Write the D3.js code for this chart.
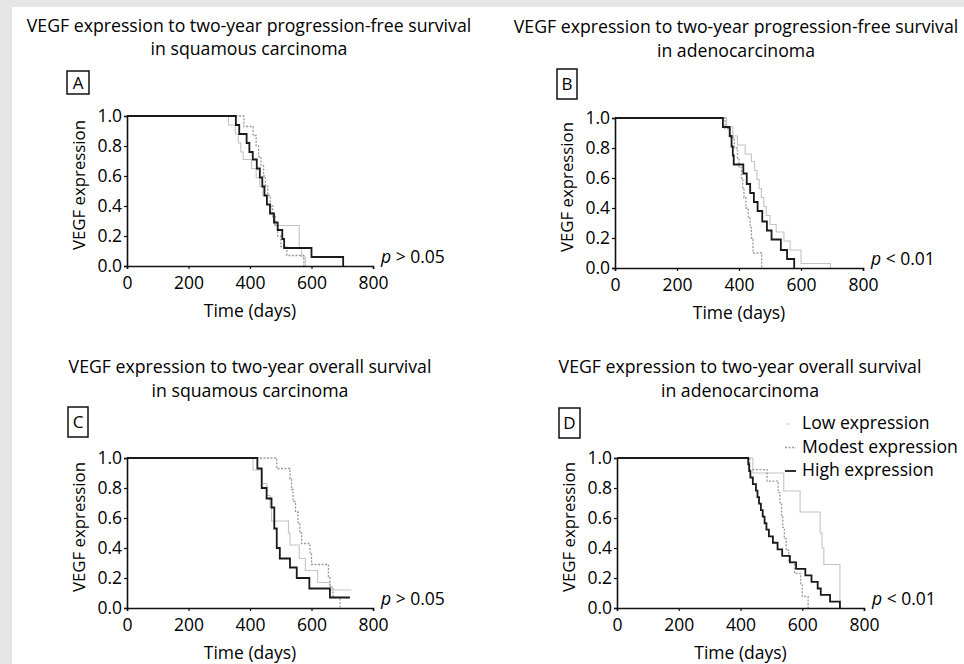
<!DOCTYPE html>
<html>
<head>
<meta charset="utf-8">
<script src="https://cdn.jsdelivr.net/npm/d3@7"></script>
<style>
  html, body { margin: 0; padding: 0; background: #e5e5e5; }
  svg { display: block; }
  text { font-family: "Open Sans", Lato, sans-serif; fill: #000; }
</style>
</head>
<body>
<script>
// tick values shared by all four panels
var dayTicks = [0, 200, 400, 600, 800];
var survTicks = [0, 0.2, 0.4, 0.6, 0.8, 1.0];
var seriesNames = ["Low expression", "Modest expression", "High expression"];

// [day, proportion] after each drop
var lowA = [[0,1],[330,0.94],[352,0.88],[362,0.82],[370,0.76],[378,0.71],[405,0.65],[420,0.59],[432,0.53],[442,0.47],[455,0.41],[468,0.35],[480,0.27],[560,0.12],[568,0.06],[580,0]];
var modestA = [[0,1],[380,0.93],[410,0.87],[420,0.8],[428,0.73],[436,0.67],[444,0.6],[450,0.53],[458,0.47],[466,0.4],[474,0.33],[482,0.27],[490,0.2],[500,0.13],[520,0.07],[575,0]];
var highA = [[0,1],[354,0.94],[365,0.88],[389,0.82],[398,0.76],[409,0.71],[422,0.65],[432,0.59],[440,0.53],[447,0.47],[455,0.41],[465,0.35],[478,0.29],[490,0.24],[505,0.18],[511,0.12],[600,0.06],[703,0]];

var lowB = [[0,1],[360,0.94],[380,0.88],[395,0.82],[420,0.76],[440,0.71],[450,0.65],[458,0.59],[465,0.53],[472,0.47],[480,0.41],[488,0.35],[500,0.29],[520,0.24],[545,0.18],[565,0.12],[600,0.03],[695,0]];
var modestB = [[0,1],[355,0.93],[372,0.87],[385,0.8],[395,0.73],[400,0.67],[408,0.6],[412,0.53],[416,0.47],[422,0.4],[430,0.33],[436,0.27],[440,0.2],[445,0.1],[473,0]];
var highB = [[0,1],[348,0.94],[370,0.88],[376,0.81],[380,0.75],[383,0.69],[414,0.63],[425,0.56],[436,0.5],[448,0.44],[460,0.38],[475,0.31],[490,0.25],[505,0.19],[535,0.12],[555,0.06],[578,0]];

var lowC = [[0,1],[410,0.92],[440,0.83],[455,0.75],[465,0.67],[470,0.58],[525,0.5],[530,0.42],[560,0.33],[580,0.25],[620,0.17],[660,0.12],[730,0.12]];
var modestC = [[0,1],[487,0.93],[530,0.86],[535,0.79],[540,0.71],[548,0.64],[556,0.57],[562,0.5],[568,0.43],[595,0.36],[600,0.29],[655,0.21],[660,0.14],[670,0.07],[693,0]];
var highC = [[0,1],[424,0.93],[438,0.8],[454,0.73],[470,0.67],[479,0.53],[487,0.4],[497,0.33],[530,0.27],[552,0.2],[593,0.13],[660,0.07],[725,0.07]];

var lowD = [[0,1],[440,0.9],[540,0.78],[593,0.64],[658,0.5],[664,0.4],[670,0.29],[722,0]];
var modestD = [[0,1],[430,0.923],[486,0.846],[522,0.769],[528,0.692],[533,0.615],[537,0.538],[542,0.462],[548,0.385],[556,0.308],[575,0.231],[595,0.154],[600,0.077],[619,0]];
var highD = [[0,1],[425,0.957],[428,0.913],[432,0.87],[440,0.826],[450,0.783],[455,0.739],[460,0.696],[466,0.652],[472,0.609],[478,0.565],[484,0.522],[492,0.478],[505,0.435],[520,0.391],[535,0.348],[560,0.304],[580,0.261],[610,0.217],[630,0.174],[650,0.13],[660,0.087],[690,0.043],[722,0]];

var titles1 = ["VEGF expression to two-year progression-free survival",
               "VEGF expression to two-year progression-free survival",
               "VEGF expression to two-year overall survival",
               "VEGF expression to two-year overall survival"];
var titles2 = ["in squamous carcinoma", "in adenocarcinoma", "in squamous carcinoma", "in adenocarcinoma"];
var letters = ["A", "B", "C", "D"];
var pLabels = ["p > 0.05", "p < 0.01", "p > 0.05", "p < 0.01"];
var curves = [[lowA, modestA, highA], [lowB, modestB, highB], [lowC, modestC, highC], [lowD, modestD, highD]];

// layout of each panel (pixel geometry)
var layout = [
  {x0: 127, x1: 373, yTop: 116, yBot: 266, cx: 249, t1: 32, t2: 55, box: [67, 71, 22, 23]},
  {x0: 615, x1: 863, yTop: 118, yBot: 268, cx: 736, t1: 33, t2: 57, box: [557, 69, 20, 30]},
  {x0: 127, x1: 373, yTop: 458, yBot: 608, cx: 250, t1: 373, t2: 397, box: [68, 407, 20, 30]},
  {x0: 617, x1: 864, yTop: 458, yBot: 608, cx: 740, t1: 373, t2: 397, box: [559, 408, 21, 30]}
];

var styles = [
  {stroke: "#c4c4c4", width: 1.1, dash: null},
  {stroke: "#9a9a9a", width: 1.3, dash: "2,1.5"},
  {stroke: "#1a1a1a", width: 1.8, dash: null}
];

var width = 964, height = 664;

var svg = d3.select("body").append("svg")
    .attr("width", width)
    .attr("height", height);

svg.append("rect")
    .attr("x", 12).attr("y", 7)
    .attr("width", width - 12).attr("height", height - 7)
    .attr("fill", "#fff");

layout.forEach(function(L, i) {
  var x = d3.scaleLinear().domain([0, 800]).range([L.x0, L.x1]);
  var y = d3.scaleLinear().domain([0, 1]).range([L.yBot, L.yTop]);
  var g = svg.append("g");

  g.append("text")
      .attr("x", L.cx).attr("y", L.t1)
      .attr("text-anchor", "middle")
      .style("font-size", "17.7px")
      .text(titles1[i]);
  g.append("text")
      .attr("x", L.cx).attr("y", L.t2)
      .attr("text-anchor", "middle")
      .style("font-size", "17.7px")
      .text(titles2[i]);

  g.append("rect")
      .attr("x", L.box[0]).attr("y", L.box[1])
      .attr("width", L.box[2]).attr("height", L.box[3])
      .attr("fill", "none").attr("stroke", "#111").attr("stroke-width", 1.5);
  g.append("text")
      .attr("x", L.box[0] + L.box[2] / 2).attr("y", L.box[1] + L.box[3] / 2 + 6)
      .attr("text-anchor", "middle")
      .style("font-size", "17px")
      .text(letters[i]);

  var line = d3.line()
      .x(function(d) { return x(d[0]); })
      .y(function(d) { return y(d[1]); })
      .curve(d3.curveStepAfter);

  curves[i].forEach(function(data, k) {
    g.append("path")
        .datum(data)
        .attr("d", line)
        .attr("fill", "none")
        .attr("stroke", styles[k].stroke)
        .attr("stroke-width", styles[k].width)
        .attr("stroke-dasharray", styles[k].dash);
  });

  var xAxis = g.append("g")
      .attr("transform", "translate(0," + L.yBot + ")")
      .call(d3.axisBottom(x).tickValues(dayTicks).tickSize(3).tickPadding(8).tickFormat(d3.format("d")));
  var yAxis = g.append("g")
      .attr("transform", "translate(" + L.x0 + ",0)")
      .call(d3.axisLeft(y).tickValues(survTicks).tickSize(3).tickPadding(2).tickFormat(d3.format(".1f")));

  [xAxis, yAxis].forEach(function(a) {
    a.select(".domain").attr("stroke", "#111").attr("stroke-width", 1.6);
    a.selectAll(".tick line").attr("stroke", "#111").attr("stroke-width", 1.2);
    a.selectAll(".tick text")
        .style("font-family", "'Open Sans', Lato, sans-serif")
        .style("font-size", "17.5px")
        .attr("fill", "#000");
  });

  g.append("text")
      .attr("x", (L.x0 + L.x1) / 2).attr("y", L.yBot + 51)
      .attr("text-anchor", "middle")
      .style("font-size", "17.5px")
      .text("Time (days)");
  g.append("text")
      .attr("transform", "translate(" + (L.x0 - 42) + "," + ((L.yTop + L.yBot) / 2 - 6) + ") rotate(-90)")
      .attr("text-anchor", "middle")
      .style("font-size", "16.8px")
      .text("VEGF expression");

  var p = g.append("text")
      .attr("x", L.x1 + 8).attr("y", L.yBot - 3)
      .style("font-size", "17.5px");
  p.append("tspan").style("font-style", "italic").text(pLabels[i].slice(0, 1));
  p.append("tspan").text(pLabels[i].slice(1));
});

// legend in panel D
var legend = svg.append("g").attr("transform", "translate(785,0)");
seriesNames.forEach(function(name, k) {
  var yy = 429 + k * 23.5;
  legend.append("line")
      .attr("x1", k === 0 ? 2 : 0).attr("x2", k === 0 ? 5 : 11)
      .attr("y1", yy - 5).attr("y2", yy - 5)
      .attr("stroke", styles[k].stroke)
      .attr("stroke-width", styles[k].width)
      .attr("stroke-dasharray", styles[k].dash);
  legend.append("text")
      .attr("x", 17).attr("y", yy)
      .style("font-size", "17.6px")
      .text(name);
});
</script>
</body>
</html>
